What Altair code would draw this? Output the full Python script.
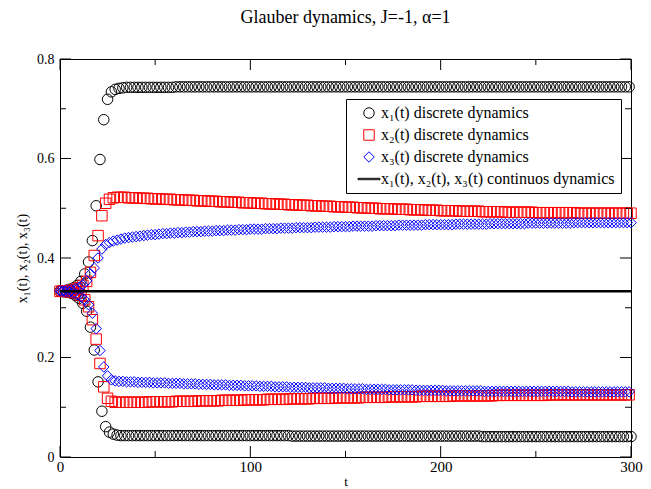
import altair as alt
import pandas as pd

# ---------------- data ----------------
# discrete dynamics: one value per integer t; even t and odd t listed separately
T_EVEN = list(range(0, 301, 2))
T_ODD = list(range(1, 300, 2))

X1_EVEN = [
    0.333, 0.332, 0.331, 0.329, 0.325, 0.319, 0.309, 0.293, 0.261, 0.215,
    0.151, 0.092, 0.061, 0.050, 0.046, 0.044, 0.043, 0.043, 0.043, 0.043,
    0.043, 0.043, 0.043, 0.043, 0.043, 0.043, 0.043, 0.043, 0.043, 0.043,
    0.043, 0.043, 0.043, 0.043, 0.043, 0.043, 0.043, 0.043, 0.043, 0.043,
    0.043, 0.043, 0.043, 0.043, 0.043, 0.043, 0.043, 0.043, 0.043, 0.043,
    0.043, 0.043, 0.043, 0.043, 0.043, 0.043, 0.043, 0.043, 0.043, 0.043,
    0.043, 0.042, 0.042, 0.042, 0.042, 0.042, 0.042, 0.042, 0.042, 0.042,
    0.042, 0.042, 0.042, 0.042, 0.042, 0.042, 0.042, 0.042, 0.042, 0.042,
    0.042, 0.042, 0.042, 0.042, 0.042, 0.042, 0.042, 0.042, 0.042, 0.042,
    0.042, 0.042, 0.042, 0.042, 0.042, 0.042, 0.042, 0.042, 0.042, 0.042,
    0.042, 0.042, 0.042, 0.042, 0.042, 0.042, 0.042, 0.042, 0.042, 0.042,
    0.042, 0.041, 0.041, 0.041, 0.041, 0.041, 0.041, 0.041, 0.041, 0.041,
    0.041, 0.041, 0.041, 0.041, 0.041, 0.041, 0.041, 0.041, 0.041, 0.041,
    0.041, 0.041, 0.041, 0.041, 0.041, 0.041, 0.041, 0.041, 0.041, 0.041,
    0.041, 0.041, 0.041, 0.041, 0.041, 0.041, 0.041, 0.041, 0.041, 0.041,
    0.041,
]
X1_ODD = [
    0.334, 0.335, 0.337, 0.340, 0.345, 0.353, 0.368, 0.392, 0.435, 0.505,
    0.598, 0.678, 0.719, 0.734, 0.739, 0.741, 0.742, 0.743, 0.743, 0.743,
    0.743, 0.743, 0.743, 0.743, 0.743, 0.743, 0.743, 0.743, 0.743, 0.743,
    0.744, 0.744, 0.744, 0.744, 0.744, 0.744, 0.744, 0.744, 0.744, 0.744,
    0.744, 0.744, 0.744, 0.744, 0.744, 0.744, 0.744, 0.744, 0.744, 0.744,
    0.744, 0.744, 0.744, 0.744, 0.744, 0.744, 0.744, 0.744, 0.744, 0.744,
    0.744, 0.744, 0.744, 0.744, 0.744, 0.744, 0.744, 0.744, 0.744, 0.744,
    0.744, 0.744, 0.744, 0.744, 0.744, 0.744, 0.744, 0.744, 0.744, 0.744,
    0.744, 0.744, 0.744, 0.744, 0.744, 0.744, 0.744, 0.744, 0.744, 0.744,
    0.744, 0.744, 0.744, 0.744, 0.744, 0.744, 0.744, 0.744, 0.744, 0.744,
    0.744, 0.744, 0.744, 0.744, 0.744, 0.744, 0.744, 0.744, 0.744, 0.744,
    0.744, 0.744, 0.744, 0.744, 0.744, 0.744, 0.744, 0.744, 0.744, 0.744,
    0.744, 0.744, 0.744, 0.744, 0.744, 0.744, 0.744, 0.744, 0.744, 0.744,
    0.744, 0.744, 0.744, 0.744, 0.744, 0.744, 0.744, 0.744, 0.744, 0.744,
    0.744, 0.744, 0.744, 0.744, 0.744, 0.744, 0.744, 0.744, 0.744, 0.744,
]
X2_EVEN = [
    0.333, 0.334, 0.334, 0.335, 0.337, 0.340, 0.345, 0.353, 0.371, 0.405,
    0.445, 0.485, 0.510, 0.518, 0.521, 0.522, 0.522, 0.522, 0.521, 0.521,
    0.521, 0.520, 0.520, 0.520, 0.519, 0.519, 0.519, 0.518, 0.518, 0.518,
    0.517, 0.517, 0.517, 0.516, 0.516, 0.516, 0.515, 0.515, 0.515, 0.514,
    0.514, 0.514, 0.513, 0.513, 0.513, 0.512, 0.512, 0.512, 0.511, 0.511,
    0.511, 0.510, 0.510, 0.510, 0.509, 0.509, 0.509, 0.508, 0.508, 0.508,
    0.507, 0.507, 0.507, 0.506, 0.506, 0.506, 0.505, 0.505, 0.505, 0.504,
    0.504, 0.504, 0.503, 0.503, 0.503, 0.502, 0.502, 0.502, 0.501, 0.501,
    0.501, 0.500, 0.500, 0.500, 0.499, 0.499, 0.499, 0.499, 0.498, 0.498,
    0.498, 0.498, 0.497, 0.497, 0.497, 0.497, 0.496, 0.496, 0.496, 0.496,
    0.495, 0.495, 0.495, 0.495, 0.495, 0.494, 0.494, 0.494, 0.494, 0.494,
    0.494, 0.493, 0.493, 0.493, 0.493, 0.493, 0.493, 0.492, 0.492, 0.492,
    0.492, 0.492, 0.492, 0.492, 0.492, 0.491, 0.491, 0.491, 0.491, 0.491,
    0.491, 0.491, 0.491, 0.491, 0.491, 0.491, 0.490, 0.490, 0.490, 0.490,
    0.490, 0.490, 0.490, 0.490, 0.490, 0.490, 0.490, 0.490, 0.490, 0.490,
    0.490,
]
X2_ODD = [
    0.333, 0.333, 0.332, 0.331, 0.329, 0.325, 0.316, 0.302, 0.276, 0.237,
    0.188, 0.141, 0.118, 0.112, 0.110, 0.110, 0.110, 0.110, 0.110, 0.110,
    0.110, 0.110, 0.110, 0.111, 0.111, 0.111, 0.111, 0.111, 0.111, 0.111,
    0.112, 0.112, 0.112, 0.112, 0.112, 0.112, 0.113, 0.113, 0.113, 0.113,
    0.113, 0.113, 0.114, 0.114, 0.114, 0.114, 0.114, 0.114, 0.115, 0.115,
    0.115, 0.115, 0.115, 0.115, 0.116, 0.116, 0.116, 0.116, 0.116, 0.116,
    0.117, 0.117, 0.117, 0.117, 0.117, 0.117, 0.118, 0.118, 0.118, 0.118,
    0.118, 0.118, 0.119, 0.119, 0.119, 0.119, 0.119, 0.119, 0.119, 0.120,
    0.120, 0.120, 0.120, 0.120, 0.120, 0.120, 0.121, 0.121, 0.121, 0.121,
    0.121, 0.121, 0.121, 0.121, 0.122, 0.122, 0.122, 0.122, 0.122, 0.122,
    0.122, 0.122, 0.122, 0.123, 0.123, 0.123, 0.123, 0.123, 0.123, 0.123,
    0.123, 0.123, 0.123, 0.123, 0.124, 0.124, 0.124, 0.124, 0.124, 0.124,
    0.124, 0.124, 0.124, 0.124, 0.124, 0.124, 0.124, 0.124, 0.125, 0.125,
    0.125, 0.125, 0.125, 0.125, 0.125, 0.125, 0.125, 0.125, 0.125, 0.125,
    0.125, 0.125, 0.125, 0.125, 0.125, 0.125, 0.125, 0.125, 0.125, 0.125,
]
X3_EVEN = [
    0.334, 0.334, 0.335, 0.336, 0.338, 0.341, 0.346, 0.354, 0.368, 0.380,
    0.400, 0.418, 0.427, 0.431, 0.434, 0.436, 0.438, 0.440, 0.441, 0.442,
    0.443, 0.444, 0.445, 0.446, 0.447, 0.447, 0.448, 0.449, 0.449, 0.450,
    0.450, 0.451, 0.451, 0.452, 0.452, 0.453, 0.453, 0.453, 0.454, 0.454,
    0.454, 0.455, 0.455, 0.455, 0.456, 0.456, 0.456, 0.457, 0.457, 0.457,
    0.458, 0.458, 0.458, 0.458, 0.459, 0.459, 0.459, 0.459, 0.460, 0.460,
    0.460, 0.460, 0.461, 0.461, 0.461, 0.461, 0.461, 0.462, 0.462, 0.462,
    0.462, 0.462, 0.463, 0.463, 0.463, 0.463, 0.463, 0.464, 0.464, 0.464,
    0.464, 0.464, 0.464, 0.465, 0.465, 0.465, 0.465, 0.465, 0.465, 0.466,
    0.466, 0.466, 0.466, 0.466, 0.466, 0.466, 0.467, 0.467, 0.467, 0.467,
    0.467, 0.467, 0.467, 0.467, 0.468, 0.468, 0.468, 0.468, 0.468, 0.468,
    0.468, 0.468, 0.468, 0.469, 0.469, 0.469, 0.469, 0.469, 0.469, 0.469,
    0.469, 0.469, 0.469, 0.470, 0.470, 0.470, 0.470, 0.470, 0.470, 0.470,
    0.470, 0.470, 0.470, 0.470, 0.470, 0.471, 0.471, 0.471, 0.471, 0.471,
    0.471, 0.471, 0.471, 0.471, 0.471, 0.471, 0.471, 0.471, 0.471, 0.471,
    0.471,
]
X3_ODD = [
    0.333, 0.332, 0.331, 0.329, 0.326, 0.322, 0.316, 0.306, 0.289, 0.258,
    0.214, 0.181, 0.163, 0.155, 0.153, 0.152, 0.152, 0.151, 0.151, 0.151,
    0.150, 0.150, 0.150, 0.150, 0.149, 0.149, 0.149, 0.149, 0.148, 0.148,
    0.148, 0.148, 0.147, 0.147, 0.147, 0.147, 0.146, 0.146, 0.146, 0.146,
    0.145, 0.145, 0.145, 0.145, 0.144, 0.144, 0.144, 0.144, 0.143, 0.143,
    0.143, 0.143, 0.142, 0.142, 0.142, 0.142, 0.141, 0.141, 0.141, 0.141,
    0.140, 0.140, 0.140, 0.140, 0.140, 0.139, 0.139, 0.139, 0.139, 0.139,
    0.138, 0.138, 0.138, 0.138, 0.138, 0.137, 0.137, 0.137, 0.137, 0.137,
    0.136, 0.136, 0.136, 0.136, 0.136, 0.136, 0.135, 0.135, 0.135, 0.135,
    0.135, 0.135, 0.135, 0.134, 0.134, 0.134, 0.134, 0.134, 0.134, 0.134,
    0.134, 0.133, 0.133, 0.133, 0.133, 0.133, 0.133, 0.133, 0.133, 0.133,
    0.133, 0.132, 0.132, 0.132, 0.132, 0.132, 0.132, 0.132, 0.132, 0.132,
    0.132, 0.132, 0.132, 0.132, 0.132, 0.132, 0.132, 0.132, 0.132, 0.132,
    0.132, 0.132, 0.132, 0.132, 0.131, 0.131, 0.131, 0.131, 0.131, 0.131,
    0.131, 0.131, 0.131, 0.131, 0.131, 0.131, 0.131, 0.131, 0.131, 0.131,
]

# continuous dynamics (constant line)
CONT_T = [0, 300]
CONT_X = [0.3333, 0.3333]

LABELS = [
    "x₁(t) discrete dynamics",
    "x₂(t) discrete dynamics",
    "x₃(t) discrete dynamics",
    "x₁(t), x₂(t), x₃(t) continuos dynamics",
]
COLORS = ["black", "red", "blue", "black"]
# last legend symbol: a short thick bar standing for the line
SHAPES = ["circle", "square", "diamond", "M-2.1,-0.13L2.1,-0.13L2.1,0.13L-2.1,0.13Z"]

X_MAJOR = [0, 100, 200, 300]
X_MINOR = [50, 150, 250]
Y_MAJOR = [0, 0.2, 0.4, 0.6, 0.8]
Y_MINOR = [0.1, 0.3, 0.5, 0.7]

TITLE = "Glauber dynamics, J=-1, α=1"
X_TITLE = "t"
Y_TITLE = "x₁(t), x₂(t), x₃(t)"

# ---------------- tables ----------------
rows = []
for lab, ev, od in zip(LABELS[:3], [X1_EVEN, X2_EVEN, X3_EVEN], [X1_ODD, X2_ODD, X3_ODD]):
    for t, v in zip(T_EVEN, ev):
        rows.append({"t": t, "x": v, "series": lab})
    for t, v in zip(T_ODD, od):
        rows.append({"t": t, "x": v, "series": lab})
pts = pd.DataFrame(rows)
cont = pd.DataFrame({"t": CONT_T, "x": CONT_X, "series": LABELS[3]})

FONT = "Liberation Serif"
MAJ, MIN = 11, 6

xs = alt.Scale(domain=[0, 300], nice=False, zero=False)
ys = alt.Scale(domain=[0, 0.8], nice=False, zero=False)
X_AXIS = alt.Axis(values=X_MAJOR, title=X_TITLE, labelFlush=False,
                  labelPadding=2, titlePadding=1, labelFontSize=15, titleFontSize=13)
Y_AXIS = alt.Axis(values=Y_MAJOR, format="~g", title=Y_TITLE, labelFlush=False,
                  labelPadding=6, titlePadding=7, labelFontSize=14, titleFontSize=14)
XENC = alt.X("t:Q", scale=xs, axis=X_AXIS)
YENC = alt.Y("x:Q", scale=ys, axis=Y_AXIS)

legend = alt.Legend(
    title=None, orient="none", legendX=286, legendY=40,
    labelFont=FONT, labelFontSize=16, labelColor="black", labelLimit=400,
    strokeColor="black", fillColor="white", padding=6,
    rowPadding=6, labelOffset=4, symbolOffset=9, cornerRadius=0, symbolSize=110,
    symbolStrokeWidth=1,
)
color = alt.Color("series:N", scale=alt.Scale(domain=LABELS, range=COLORS), legend=legend)
shape = alt.Shape("series:N", scale=alt.Scale(domain=LABELS, range=SHAPES), legend=legend)

points = alt.Chart(pts).mark_point(filled=False, opacity=1, size=110, strokeWidth=1).encode(
    x=XENC, y=YENC, color=color, shape=shape,
)

line = alt.Chart(cont).mark_line(strokeWidth=2.5).encode(
    x=XENC, y=YENC, color=color,
)

# tick marks drawn inside the frame (length in pixels from the frame)
def tick_layers(vals, length, axis):
    d = pd.DataFrame({"v": vals})
    if axis == "x":
        enc = alt.X("v:Q", scale=xs, axis=X_AXIS)
        bot = alt.Chart(d).mark_rule(color="black").encode(
            x=enc, y=alt.value({"expr": "height"}), y2=alt.value({"expr": f"height - {length}"}))
        top = alt.Chart(d).mark_rule(color="black").encode(
            x=enc, y=alt.value(0), y2=alt.value(length))
        return [bot, top]
    enc = alt.Y("v:Q", scale=ys, axis=Y_AXIS)
    left = alt.Chart(d).mark_rule(color="black").encode(
        y=enc, x=alt.value(0), x2=alt.value(length))
    right = alt.Chart(d).mark_rule(color="black").encode(
        y=enc, x=alt.value({"expr": "width"}), x2=alt.value({"expr": f"width - {length}"}))
    return [left, right]

ticks = (tick_layers(X_MAJOR, MAJ, "x") + tick_layers(X_MINOR, MIN, "x")
         + tick_layers(Y_MAJOR, MAJ, "y") + tick_layers(Y_MINOR, MIN, "y"))

chart = alt.layer(points, line, *ticks).properties(
    width=635, height=480,
    autosize=alt.AutoSizeParams(type="fit", contains="padding"),
    title=alt.TitleParams(TITLE, font=FONT, fontSize=18, fontWeight="normal",
                          color="black", anchor="middle", offset=25),
    padding={"left": 7, "top": 1, "right": 0, "bottom": 0},
).configure_view(stroke="black", strokeWidth=1).configure_axis(
    labelFont=FONT, titleFont=FONT,
    titleFontWeight="normal", labelColor="black", titleColor="black",
    domain=False, ticks=False, grid=False,
)

chart.save("out.html", embed_options={"renderer": "svg", "actions": False})
